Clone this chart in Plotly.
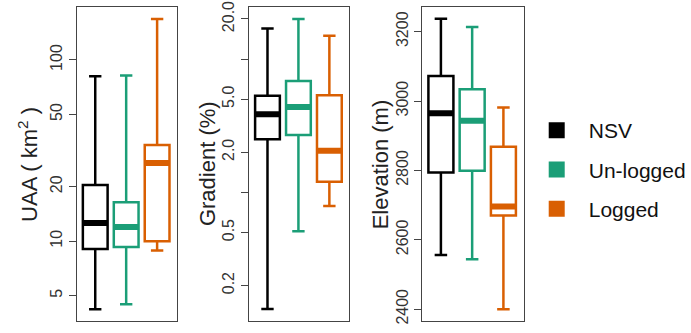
import plotly.graph_objects as go

groups = ["NSV", "Un-logged", "Logged"]
colors = ["#000000", "#1B9E77", "#D95F02"]

# UAA (km^2)
uaa_low = [4.22, 4.49, 8.88]
uaa_q1 = [9.07, 9.3, 10.0]
uaa_med = [12.6, 12.0, 27.0]
uaa_q3 = [20.4, 16.4, 34.0]
uaa_high = [81.3, 82.0, 168.0]

# Gradient (%)
grad_low = [0.1335, 0.511, 0.79]
grad_q1 = [2.5, 2.7, 1.2]
grad_med = [3.85, 4.37, 2.05]
grad_q3 = [5.32, 6.85, 5.35]
grad_high = [17.0, 20.0, 15.0]

# Elevation (m)
elev_low = [2556, 2544, 2400]
elev_q1 = [2794, 2799, 2670]
elev_med = [2965, 2943, 2696]
elev_q3 = [3072, 3034, 2868]
elev_high = [3237, 3213, 2981]

panels = [
    (uaa_low, uaa_q1, uaa_med, uaa_q3, uaa_high),
    (grad_low, grad_q1, grad_med, grad_q3, grad_high),
    (elev_low, elev_q1, elev_med, elev_q3, elev_high),
]

W, H = 691, 333
xdom = [(77, 178), (250, 351), (424, 526)]
ytop, ybot = 7, 321
pos = [1, 2, 3]
bw = 0.8

fig = go.Figure()
for p, (lo, q1, med, q3, hi) in enumerate(panels):
    xa = "x" if p == 0 else f"x{p+1}"
    ya = "y" if p == 0 else f"y{p+1}"
    for i, g in enumerate(groups):
        fig.add_trace(go.Box(
            x=[pos[i]], q1=[q1[i]], median=[med[i]], q3=[q3[i]],
            lowerfence=[lo[i]], upperfence=[hi[i]],
            width=bw, whiskerwidth=0.5,
            line=dict(color=colors[i], width=2.5),
            fillcolor="white", boxpoints=False,
            showlegend=False, xaxis=xa, yaxis=ya, hoverinfo="skip",
        ))
        fig.add_trace(go.Scatter(
            x=[pos[i] - bw / 2, pos[i] + bw / 2], y=[med[i], med[i]],
            mode="lines", line=dict(color=colors[i], width=6),
            showlegend=False, xaxis=xa, yaxis=ya, hoverinfo="skip",
        ))

for i, g in enumerate(groups):
    fig.add_trace(go.Scatter(
        x=[None], y=[None], mode="markers", name=g,
        marker=dict(symbol="square", size=16, color=colors[i]),
        legendgroup=g, xaxis="x", yaxis="y",
    ))

axcommon = dict(showline=True, linecolor="#444", linewidth=1.2, mirror=True,
                showgrid=False, zeroline=False, automargin=False)
layout = dict(
    template="none",
    width=W, height=H, margin=dict(l=0, r=0, t=0, b=0),
    paper_bgcolor="white", plot_bgcolor="white",
    font=dict(family="Liberation Sans, Arial", color="#222"),
    showlegend=True,
    legend=dict(x=527 / W, y=1 - 110 / H, xanchor="left", yanchor="top",
                font=dict(size=21, color="#111"), tracegroupgap=9,
                itemwidth=54, bgcolor="rgba(0,0,0,0)"),
)
ydoms = [(H - ybot) / H, (H - ytop) / H]
minor_common = dict(ticks="outside", ticklen=7, tickcolor="#444", showgrid=False)
yconf = [
    dict(type="log", range=[0.56, 2.292], tickvals=[5, 10, 20, 50, 100],
         ticktext=["5", "10", "20", "50", "100"]),
    dict(type="log", range=[-0.965, 1.391],
         tickvals=[0.2, 0.5, 2, 5, 20],
         ticktext=["0.2", "0.5", "2.0", "5.0", "20.0"],
         minor=dict(tickvals=[1, 10], **minor_common)),
    dict(type="linear", range=[2366, 3271],
         tickvals=[2400, 2600, 2800, 3000, 3200]),
]
titles = ["UAA ( km<sup>2</sup> )", "Gradient (%)", "Elevation (m)"]
title_x = [28, 208, 382]
for p in range(3):
    sx = "" if p == 0 else str(p + 1)
    layout[f"xaxis{sx}"] = dict(domain=[xdom[p][0] / W, xdom[p][1] / W],
                                range=[0.4, 3.65], showticklabels=False,
                                ticks="", anchor=f"y{sx}", **axcommon)
    layout[f"yaxis{sx}"] = dict(domain=ydoms, anchor=f"x{sx}", ticks="outside",
                                ticklen=7, tickcolor="#444", tickangle=-90,
                                tickfont=dict(size=16, color="#333"),
                                **yconf[p], **axcommon)
fig.update_layout(**layout)
for p in range(3):
    fig.add_annotation(text=titles[p], x=title_x[p] / W, y=(1 - (ytop + ybot) / 2 / H),
                       xref="paper", yref="paper", textangle=-90, showarrow=False,
                       xanchor="center", yanchor="middle",
                       font=dict(size=22, color="#222"))

fig.write_html("out.html")
